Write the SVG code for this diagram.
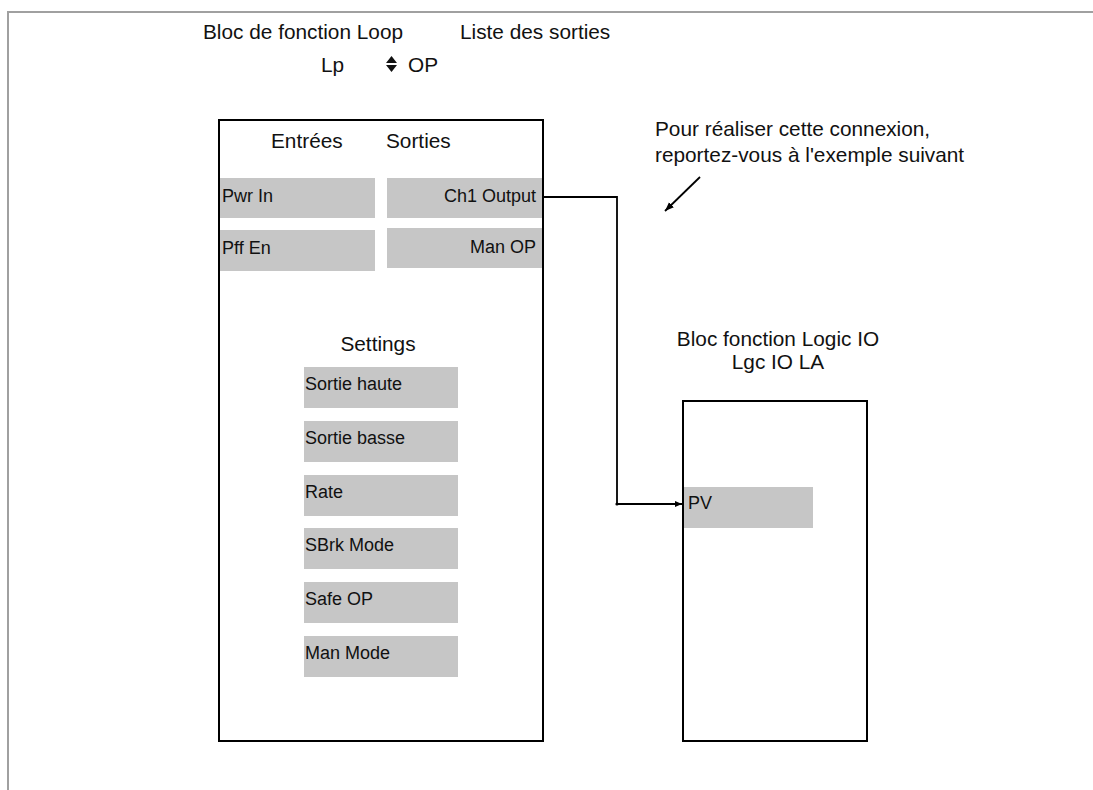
<svg xmlns="http://www.w3.org/2000/svg" width="1093" height="790" viewBox="0 0 1093 790">
<defs>
<marker id="arr" markerWidth="8" markerHeight="8" refX="7" refY="4" orient="auto" markerUnits="userSpaceOnUse">
<path d="M0,1 L7,4 L0,7 z" fill="#000"/>
</marker>
<marker id="arr2" markerWidth="10" markerHeight="10" refX="9" refY="5" orient="auto" markerUnits="userSpaceOnUse">
<path d="M0,1.5 L9,5 L0,8.5 z" fill="#000"/>
</marker>
<style>
text{font-family:"Liberation Sans",Arial,sans-serif;fill:#111}
.t{font-size:20.8px}
.l{font-size:18px}
.box{fill:#fff;stroke:#000;stroke-width:2}
.cell{fill:#c6c6c6}
.wire{fill:none;stroke:#000;stroke-width:1.8}
.frame{stroke:#a0a0a0;stroke-width:2;fill:none}
</style>
</defs>
<rect width="1093" height="790" fill="#fff"/>
<path class="frame" d="M8,790 V12 H1093"/>

<g id="header">
<text class="t" x="203" y="39">Bloc de fonction Loop</text>
<text class="t" x="460" y="39">Liste des sorties</text>
<text class="t" x="321" y="72">Lp</text>
<polygon points="386,63 391.5,56 397,63" fill="#111"/>
<polygon points="386,65 391.5,72 397,65" fill="#111"/>
<text class="t" x="408" y="72">OP</text>
</g>

<g id="loop-block">
<rect class="box" x="219" y="120" width="324" height="621"/>
<text class="t" x="271" y="148">Entrées</text>
<text class="t" x="386" y="148">Sorties</text>
<rect class="cell" x="220" y="178" width="155" height="40"/>
<text class="l" x="222" y="202">Pwr In</text>
<rect class="cell" x="220" y="230" width="155" height="41"/>
<text class="l" x="222" y="254">Pff En</text>
<rect class="cell" x="387" y="178" width="155" height="40"/>
<text class="l" x="536" y="202" text-anchor="end">Ch1 Output</text>
<rect class="cell" x="387" y="228" width="155" height="40"/>
<text class="l" x="536" y="253" text-anchor="end">Man OP</text>
<text class="t" x="378" y="351" text-anchor="middle">Settings</text>
<rect class="cell" x="304" y="367" width="154" height="41"/>
<text class="l" x="305" y="390">Sortie haute</text>
<rect class="cell" x="304" y="421" width="154" height="41"/>
<text class="l" x="305" y="444">Sortie basse</text>
<rect class="cell" x="304" y="475" width="154" height="41"/>
<text class="l" x="305" y="498">Rate</text>
<rect class="cell" x="304" y="528" width="154" height="41"/>
<text class="l" x="305" y="551">SBrk Mode</text>
<rect class="cell" x="304" y="582" width="154" height="41"/>
<text class="l" x="305" y="605">Safe OP</text>
<rect class="cell" x="304" y="636" width="154" height="41"/>
<text class="l" x="305" y="659">Man Mode</text>
</g>

<g id="logic-io-block">
<text class="t" x="778" y="346" text-anchor="middle">Bloc fonction Logic IO</text>
<text class="t" x="778" y="369" text-anchor="middle">Lgc IO LA</text>
<rect class="box" x="683" y="401" width="184" height="340"/>
<rect class="cell" x="684" y="487" width="129" height="41"/>
<text class="l" x="688" y="509">PV</text>
</g>

<g id="note">
<text class="t" x="655" y="136">Pour réaliser cette connexion,</text>
<text class="t" x="655" y="162">reportez-vous à l'exemple suivant</text>
</g>

<g id="connectors">
<path class="wire" d="M543,197 H617 V504 H682" marker-end="url(#arr)"/>
<circle cx="617" cy="504" r="1.6" fill="#000"/>
<line class="wire" x1="700" y1="177" x2="665" y2="211" marker-end="url(#arr2)"/>
</g>
</svg>
